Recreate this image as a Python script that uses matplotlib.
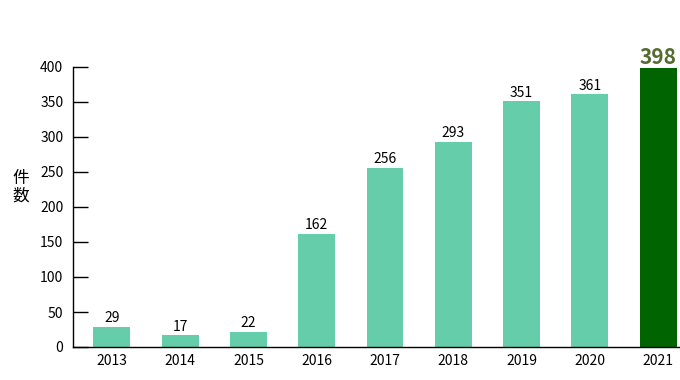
import matplotlib
matplotlib.use("Agg")
import matplotlib.pyplot as plt

years = ["2013", "2014", "2015", "2016", "2017", "2018", "2019", "2020", "2021"]
counts = [29, 17, 22, 162, 256, 293, 351, 361, 398]
yticks = [0, 50, 100, 150, 200, 250, 300, 350, 400]

LIGHT = "#66CDAA"
DARK = "#006400"
HIGHLIGHT_TEXT = "#556B2F"

plt.rcParams["font.family"] = ["Noto Sans CJK JP", "DejaVu Sans"]

fig = plt.figure(figsize=(6.8, 3.8), dpi=100)
ax = fig.add_axes([73 / 680, 1 - 347 / 380, 1 - 73 / 680, 280 / 380])

x = list(range(len(years)))
colors = [LIGHT] * (len(years) - 1) + [DARK]
ax.bar(x, counts, width=0.54, color=colors, zorder=2)

for i, v in enumerate(counts):
    if i == len(counts) - 1:
        ax.text(i, v + 1, str(v), ha="center", va="bottom", fontsize=15,
                fontweight="bold", color=HIGHLIGHT_TEXT)
    else:
        ax.text(i, v + 2, str(v), ha="center", va="bottom", fontsize=10,
                color="black")

ax.set_xlim(-0.57, 8.32)
ax.set_ylim(0, 400)
ax.set_yticks(yticks)
ax.set_xticks(x)
ax.set_xticklabels(years)
ax.tick_params(axis="y", direction="in", length=11, width=1, labelsize=10, pad=7)
ax.tick_params(axis="x", length=0, labelsize=10, pad=5)

for side in ("top", "right"):
    ax.spines[side].set_visible(False)
ax.spines["left"].set_linewidth(1)
ax.spines["bottom"].set_linewidth(1)

fig.text(21 / 680, 1 - 187 / 380, "件\n数", ha="center", va="center",
         fontsize=12, linespacing=1.05)

fig.savefig("out.png", dpi=100)
